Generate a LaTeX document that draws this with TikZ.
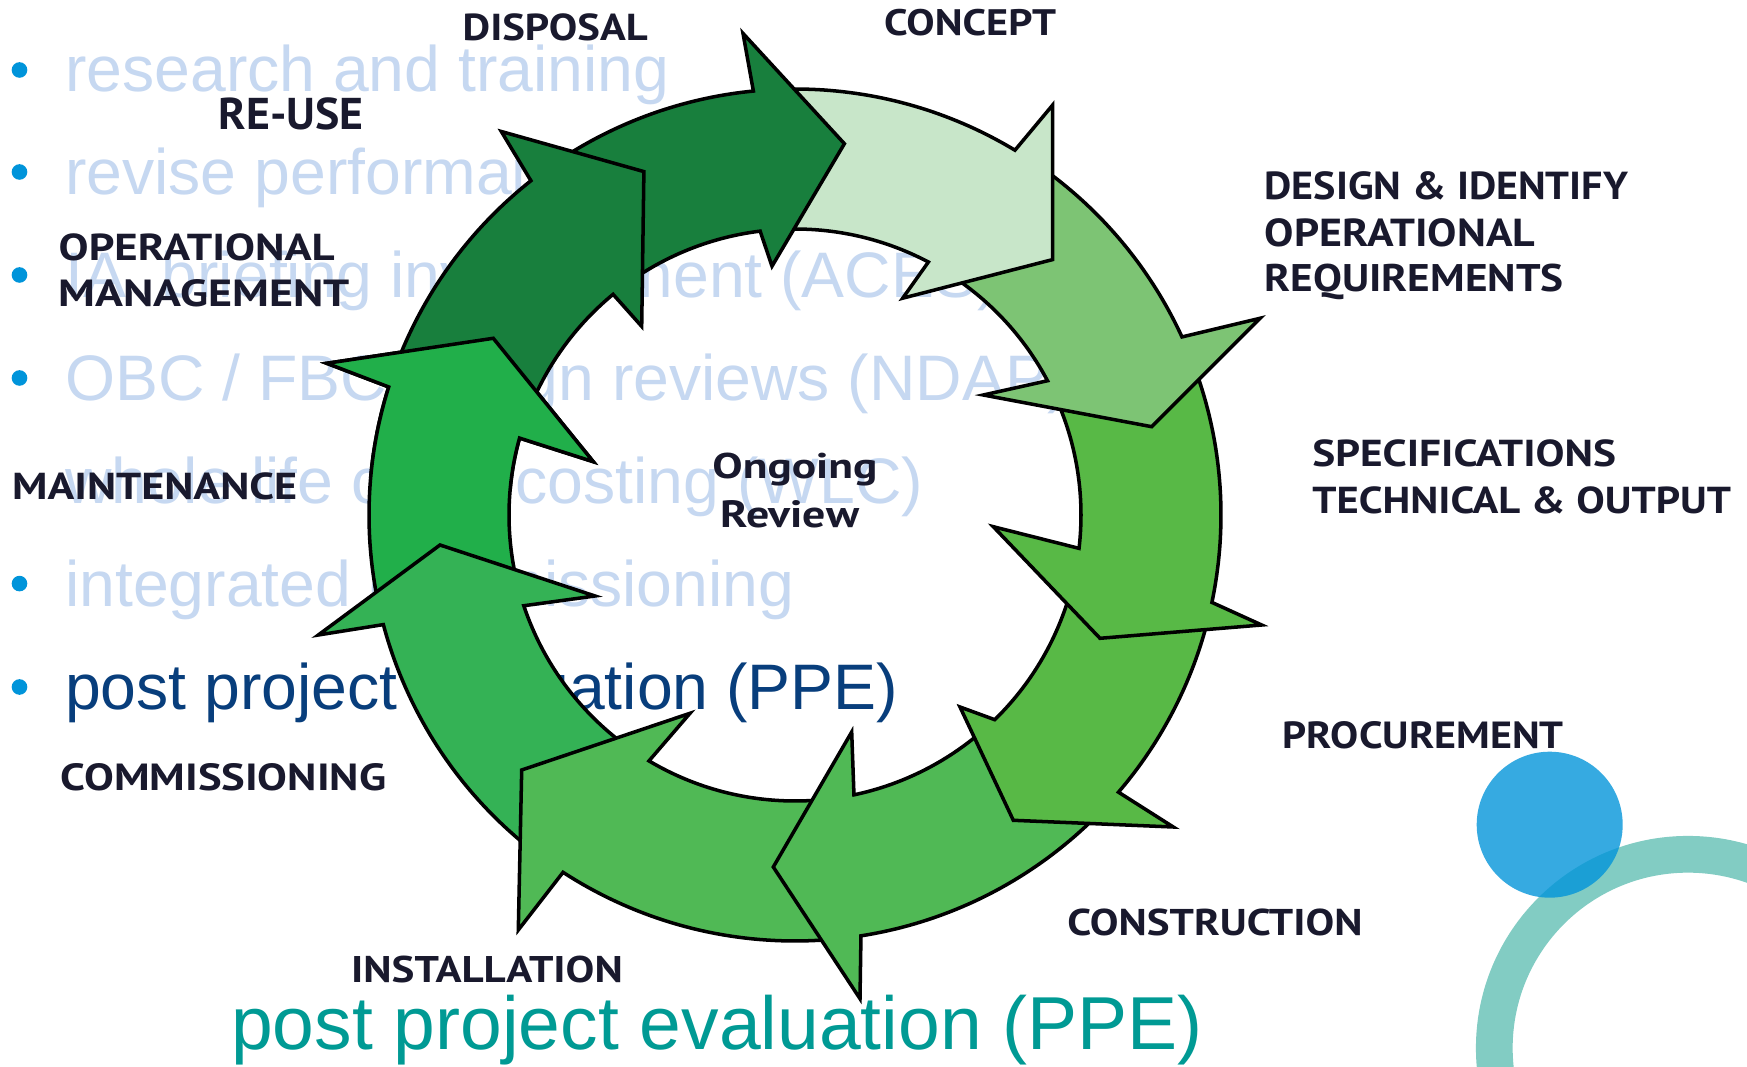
\documentclass[tikz,border=0pt]{standalone}
\usepackage{fontspec}
\usepackage{graphicx}
\setmainfont{Liberation Sans}
\newfontfamily\labfont{PT Sans}
\newlength{\pxu}
\setlength{\pxu}{0.01cm}
\newcommand{\mylbl}[3]{\resizebox{#1\pxu}{#2\pxu}{\labfont\bfseries #3}}
% #1 fill, #2 tail angle (outer), #3 notch angle (outer), #4 outer barb, #5 tip, #6 inner barb, #7 notch angle (inner), #8 tail angle (inner)
\newcommand{\ringarrow}[8]{%
  \filldraw[arrw,fill=#1]
    plot[domain=0:1,samples=40] ({795+426*cos(#2+(#3-#2)*\x)},{515+426*sin(#2+(#3-#2)*\x)})
    -- #4 -- #5 -- #6
    -- plot[domain=0:1,samples=40] ({795+286*cos(#7+(#8-#7)*\x)},{515+286*sin(#7+(#8-#7)*\x)})
    -- cycle;}
\definecolor{labc}{RGB}{25,25,45}
\definecolor{bulc}{RGB}{198,216,241}
\definecolor{navyc}{RGB}{8,62,124}
\definecolor{tealc}{RGB}{0,154,148}
\definecolor{ringc}{RGB}{130,204,195}
\definecolor{dotc}{RGB}{0,148,218}
\definecolor{gdark}{RGB}{24,127,61}
\definecolor{glight}{RGB}{200,230,201}
\definecolor{gmedl}{RGB}{125,196,116}
\definecolor{gfive}{RGB}{88,185,70}
\definecolor{gseven}{RGB}{80,185,85}
\definecolor{gnine}{RGB}{52,178,85}
\definecolor{gten}{RGB}{33,175,74}
\begin{document}
\begin{tikzpicture}[x=0.01cm,y=-0.01cm,
  arrw/.style={draw=black,line width=1pt,line join=miter},
  lbl/.style={anchor=base west,inner sep=0pt,text=labc},
  bt/.style={anchor=base west,inner sep=0pt,text=bulc,font=\fontsize{18.29}{22}\selectfont},
  bdot/.style={circle,fill=dotc,inner sep=0pt,minimum size=0.156cm}]
\useasboundingbox (0,0) rectangle (1747,1067);
\clip (0,0) rectangle (1747,1067);
\fill[white] (0,0) rectangle (1747,1067);

% background bullet list
\node[bdot] (d1) at (19.5,70) {};
\node[bdot] (d2) at (19.5,172) {};
\node[bdot] (d3) at (19.5,275) {};
\node[bdot] (d4) at (19.5,378) {};
\node[bdot] (d6) at (19.5,583.6) {};
\node[bdot] (d7) at (19.5,687) {};
\node[bt] (l1) at (64.5,91.5) {research and training};
\node[bt] (l2) at (64.5,194.5) {revise performance};
\node[bt] (l3) at (64.5,297.5) {IA\hspace{0.28em} briefing invol\hspace{0.45em}vement (ACES)};
\node[bt] (l4) at (64.5,400.5) {OBC / FBC design reviews (NDAP)};
\node[bt] (l5) at (64.5,503.5) {whole life cycle costing (WLC)};
\node[bt] (l6) at (64.5,606.5) {integrated commissioning};
\node[bt,text=navyc] (l7) at (64.5,709.5) {post project evaluation (PPE)};

% ring of arrows (each head lies over the next tail)
\ringarrow{gten}{166.8}{197.5}{(326.7,363.3)}{(493.3,338.3)}{(593.3,461.7)}{195.6}{164.5}
\ringarrow{gnine}{126}{165.1}{(318.3,635)}{(440,545)}{(595,596)}{161.5}{124}
\ringarrow{gseven}{83.6}{123.0}{(518.3,930)}{(521.7,770)}{(690,713.3)}{120.7}{81.8}
\ringarrow{gseven}{44.2}{81.1}{(860,998.7)}{(773.3,867)}{(851.7,732)}{78.1}{49.5}
\ringarrow{gfive}{13.5}{40.6}{(1173.3,827)}{(1013.3,820.3)}{(960,707)}{45.7}{11.2}
\ringarrow{gfive}{337.8}{371.85}{(1261.7,625)}{(1100,638.3)}{(993.3,526.7)}{366.7}{334}
\ringarrow{gmedl}{304}{335.3}{(1260,318.3)}{(1151.7,426.7)}{(983.3,395)}{332.0}{301.6}
\ringarrow{glight}{267}{301.1}{(1052.7,105)}{(1052.6,259.6)}{(902.7,298.2)}{297.8}{267}
\ringarrow{gdark}{235.3}{264.4}{(743,33.4)}{(844.4,143.7)}{(772,266.2)}{263.0}{234.3}
\ringarrow{gdark}{199.9}{231.7}{(501.3,131.5)}{(643.9,171.6)}{(641.7,326.4)}{230.5}{200.6}
\begin{scope}
\clip (795,515) -- (147.5,458.3) -- (205.9,240.3) -- (335.4,55.4) -- cycle;
\ringarrow{gten}{166.8}{197.5}{(326.7,363.3)}{(493.3,338.3)}{(593.3,461.7)}{195.6}{164.5}
\end{scope}

% stage labels
\node[lbl] (disposal) at (462,40.2) {\mylbl{185}{26.8}{DISPOSAL}};
\node[lbl] (concept) at (883.5,35.1) {\mylbl{172}{26.3}{CONCEPT}};
\node[lbl] (reuse) at (218,129.4) {\mylbl{145}{31.8}{RE-USE}};
\node[lbl] (opl) at (58,260.2) {\mylbl{276}{26.8}{OPERATIONAL}};
\node[lbl] (mgmt) at (58,307) {\mylbl{291}{27}{MANAGEMENT}};
\node[lbl] (maint) at (11.5,499.4) {\mylbl{285}{26.8}{MAINTENANCE}};
\node[lbl] (comm) at (60,790.2) {\mylbl{325.5}{27}{COMMISSIONING}};
\node[lbl] (inst) at (350.5,982.8) {\mylbl{271.5}{26.5}{INSTALLATION}};
\node[lbl] (constr) at (1066.7,935.3) {\mylbl{295}{26.6}{CONSTRUCTION}};
\node[lbl] (proc) at (1282,748.5) {\mylbl{281}{27}{PROCUREMENT}};
\node[lbl] (design) at (1264,200) {\mylbl{363.5}{27.9}{DESIGN \& IDENTIFY}};
\node[lbl] (opr) at (1264,246.4) {\mylbl{270.4}{27.9}{OPERATIONAL}};
\node[lbl] (req) at (1264,291.8) {\mylbl{299}{27.5}{REQUIREMENTS}};
\node[lbl] (spec) at (1311.7,466.2) {\mylbl{303.5}{26.8}{SPECIFICATIONS}};
\node[lbl] (tech) at (1311.7,513.3) {\mylbl{418.7}{26.8}{TECHNICAL \& OUTPUT}};
\node[lbl] (ongoing) at (711.7,478.5) {\mylbl{165}{25.5}{Ongoing}};
\node[lbl] (review) at (720,527.3) {\mylbl{138.3}{27}{Review}};

% bottom caption
\node[anchor=base west,inner sep=0pt,text=tealc,font=\fontsize{21.34}{24}\selectfont] (ppe) at (230.5,1050) {post project evaluation (PPE)};

% decorative circles
\draw[ringc,line width=0.367cm] (1688,1048) circle (193.7);
\fill[dotc,opacity=0.79] (1549.7,824.7) circle (73);
\end{tikzpicture}
\end{document}
